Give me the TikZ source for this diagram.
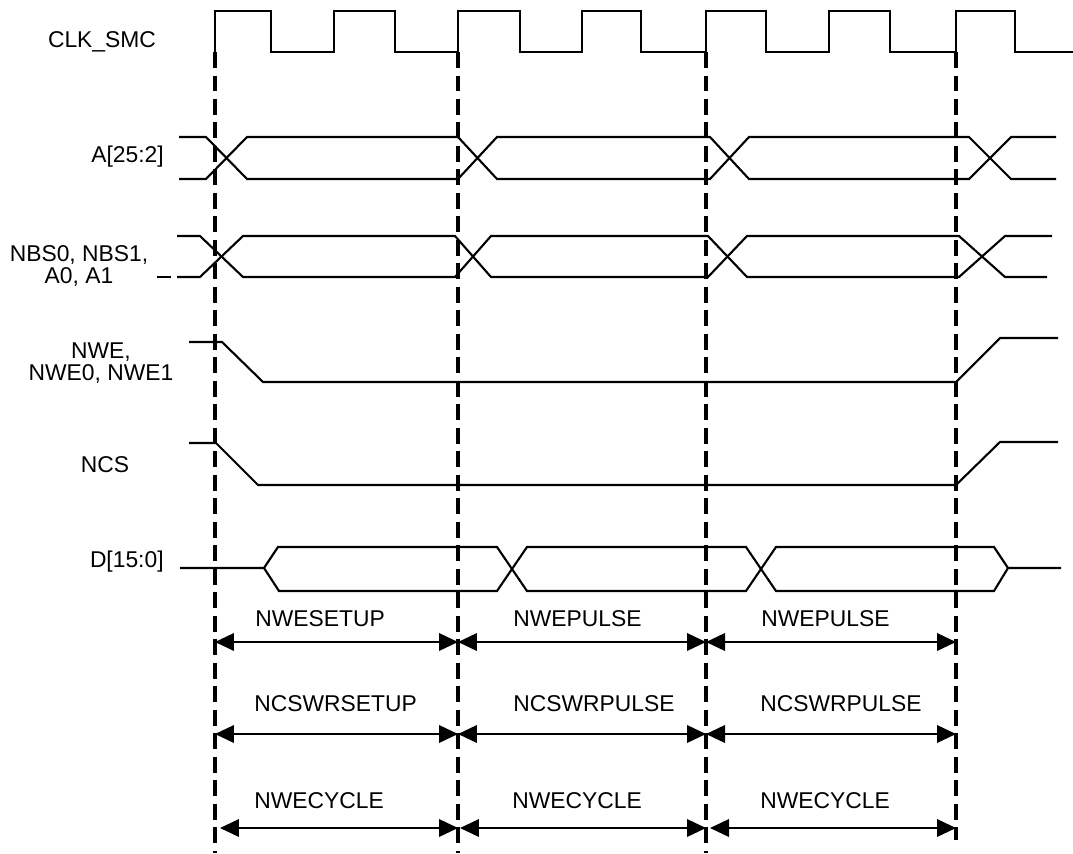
\documentclass[tikz,border=0pt]{standalone}
\usepackage{fontspec}
\setmainfont{Liberation Sans}
\usetikzlibrary{arrows.meta,positioning,calc}

\begin{document}
\begin{tikzpicture}[x=0.02cm, y=-0.02cm,
  every node/.style={font=\fontsize{13}{12.5}\selectfont, inner sep=0pt, align=center},
  wave/.style={line width=1.2pt, line join=miter},
  guide/.style={line width=2.2pt, dash pattern=on 0.32cm off 0.15cm},
  span/.style={{Triangle[length=0.38cm,width=0.35cm]}-{Triangle[length=0.38cm,width=0.35cm]}, line width=1.2pt}
]
\useasboundingbox (0,0) rectangle (1073,853);

\node (clk) at (102,42) {CLK\_SMC};
\node[anchor=east] (addr) at (164,157) {A[25:2]};
\node (nbs) at (79,266) {NBS0, NBS1,\\A0, A1};
\node (nwe) at (101,363) {NWE,\\NWE0, NWE1};
\node (ncs) at (105,465) {NCS};
\node[anchor=east] (data) at (164,562) {D[15:0]};

\coordinate (g1) at (215,52);
\coordinate (g2) at (458,52);
\coordinate (g3) at (706,52);
\coordinate (g4) at (956,52);
\foreach \g in {g1,g2,g3}
  \draw[guide] (\g) -- (\g |- 0,853);
\draw[guide] (g4) -- (g4 |- 0,840);

\draw[wave] (215,52) -- (215,11) -- (271,11) -- (271,52) -- (334,52) -- (334,11) -- (395,11) -- (395,52)
  -- (458,52) -- (458,11) -- (520,11) -- (520,52) -- (582,52) -- (582,11) -- (641,11) -- (641,52)
  -- (706,52) -- (706,11) -- (766,11) -- (766,52) -- (829,52) -- (829,11) -- (890,11) -- (890,52)
  -- (956,52) -- (956,11) -- (1015,11) -- (1015,52) -- (1073,52);

\draw[wave] (179,137) -- (206,137) -- (247,179) -- (458,179) -- (497,137) -- (710,137) -- (749,179) -- (969,179) -- (1011,137) -- (1056,137);
\draw[wave] (179,179) -- (206,179) -- (247,137) -- (458,137) -- (497,179) -- (710,179) -- (749,137) -- (969,137) -- (1011,179) -- (1056,179);

\draw[wave] (157,277) -- (171,277);
\draw[wave] (177,236) -- (200,236) -- (243,277) -- (455,277) -- (491,236) -- (708,236) -- (747,277) -- (959,277) -- (1005,236) -- (1052,236);
\draw[wave] (177,277) -- (200,277) -- (243,236) -- (455,236) -- (491,277) -- (708,277) -- (747,236) -- (959,236) -- (1005,277) -- (1047,277);

\draw[wave] (189,342) -- (222,342) -- (263,382) -- (956,382) -- (1000,338) -- (1058,338);
\draw[wave] (189,443) -- (216,443) -- (258,485) -- (956,485) -- (1000,442) -- (1058,442);

\draw[wave] (180,568) -- (264,568) -- (278,547) -- (497,547) -- (527,591) -- (746,591) -- (776,547) -- (994,547) -- (1008,568) -- (1061,568);
\draw[wave] (264,568) -- (279,591) -- (497,591) -- (527,547) -- (746,547) -- (776,591) -- (994,591) -- (1008,568);

\coordinate (r1) at (0,642);
\coordinate (r2) at (0,734);
\coordinate (r3) at (0,828);
\foreach \r in {r1,r2} {
  \draw[span] (g1 |- \r) -- (g2 |- \r);
  \draw[span] (g2 |- \r) -- (g3 |- \r);
  \draw[span] (g3 |- \r) -- (g4 |- \r);
}
\draw[span, shorten <=0.1cm] (g1 |- r3) -- (g2 |- r3);
\draw[span, shorten <=0.04cm] (g2 |- r3) -- (g3 |- r3);
\draw[span, shorten <=0.08cm] (g3 |- r3) -- (g4 |- r3);

\node[anchor=west] (setup) at (255,619) {NWESETUP};
\node[anchor=west] (pulse1) at (513,619) {NWEPULSE};
\node[anchor=west] (pulse2) at (761,619) {NWEPULSE};
\node[anchor=west] (cssetup) at (254,704) {NCSWRSETUP};
\node[anchor=west] (cspulse1) at (513,704) {NCSWRPULSE};
\node[anchor=west] (cspulse2) at (760,704) {NCSWRPULSE};
\node[anchor=west] (cycle1) at (254,801) {NWECYCLE};
\node[anchor=west] (cycle2) at (512,801) {NWECYCLE};
\node[anchor=west] (cycle3) at (760,801) {NWECYCLE};
\end{tikzpicture}
\end{document}
